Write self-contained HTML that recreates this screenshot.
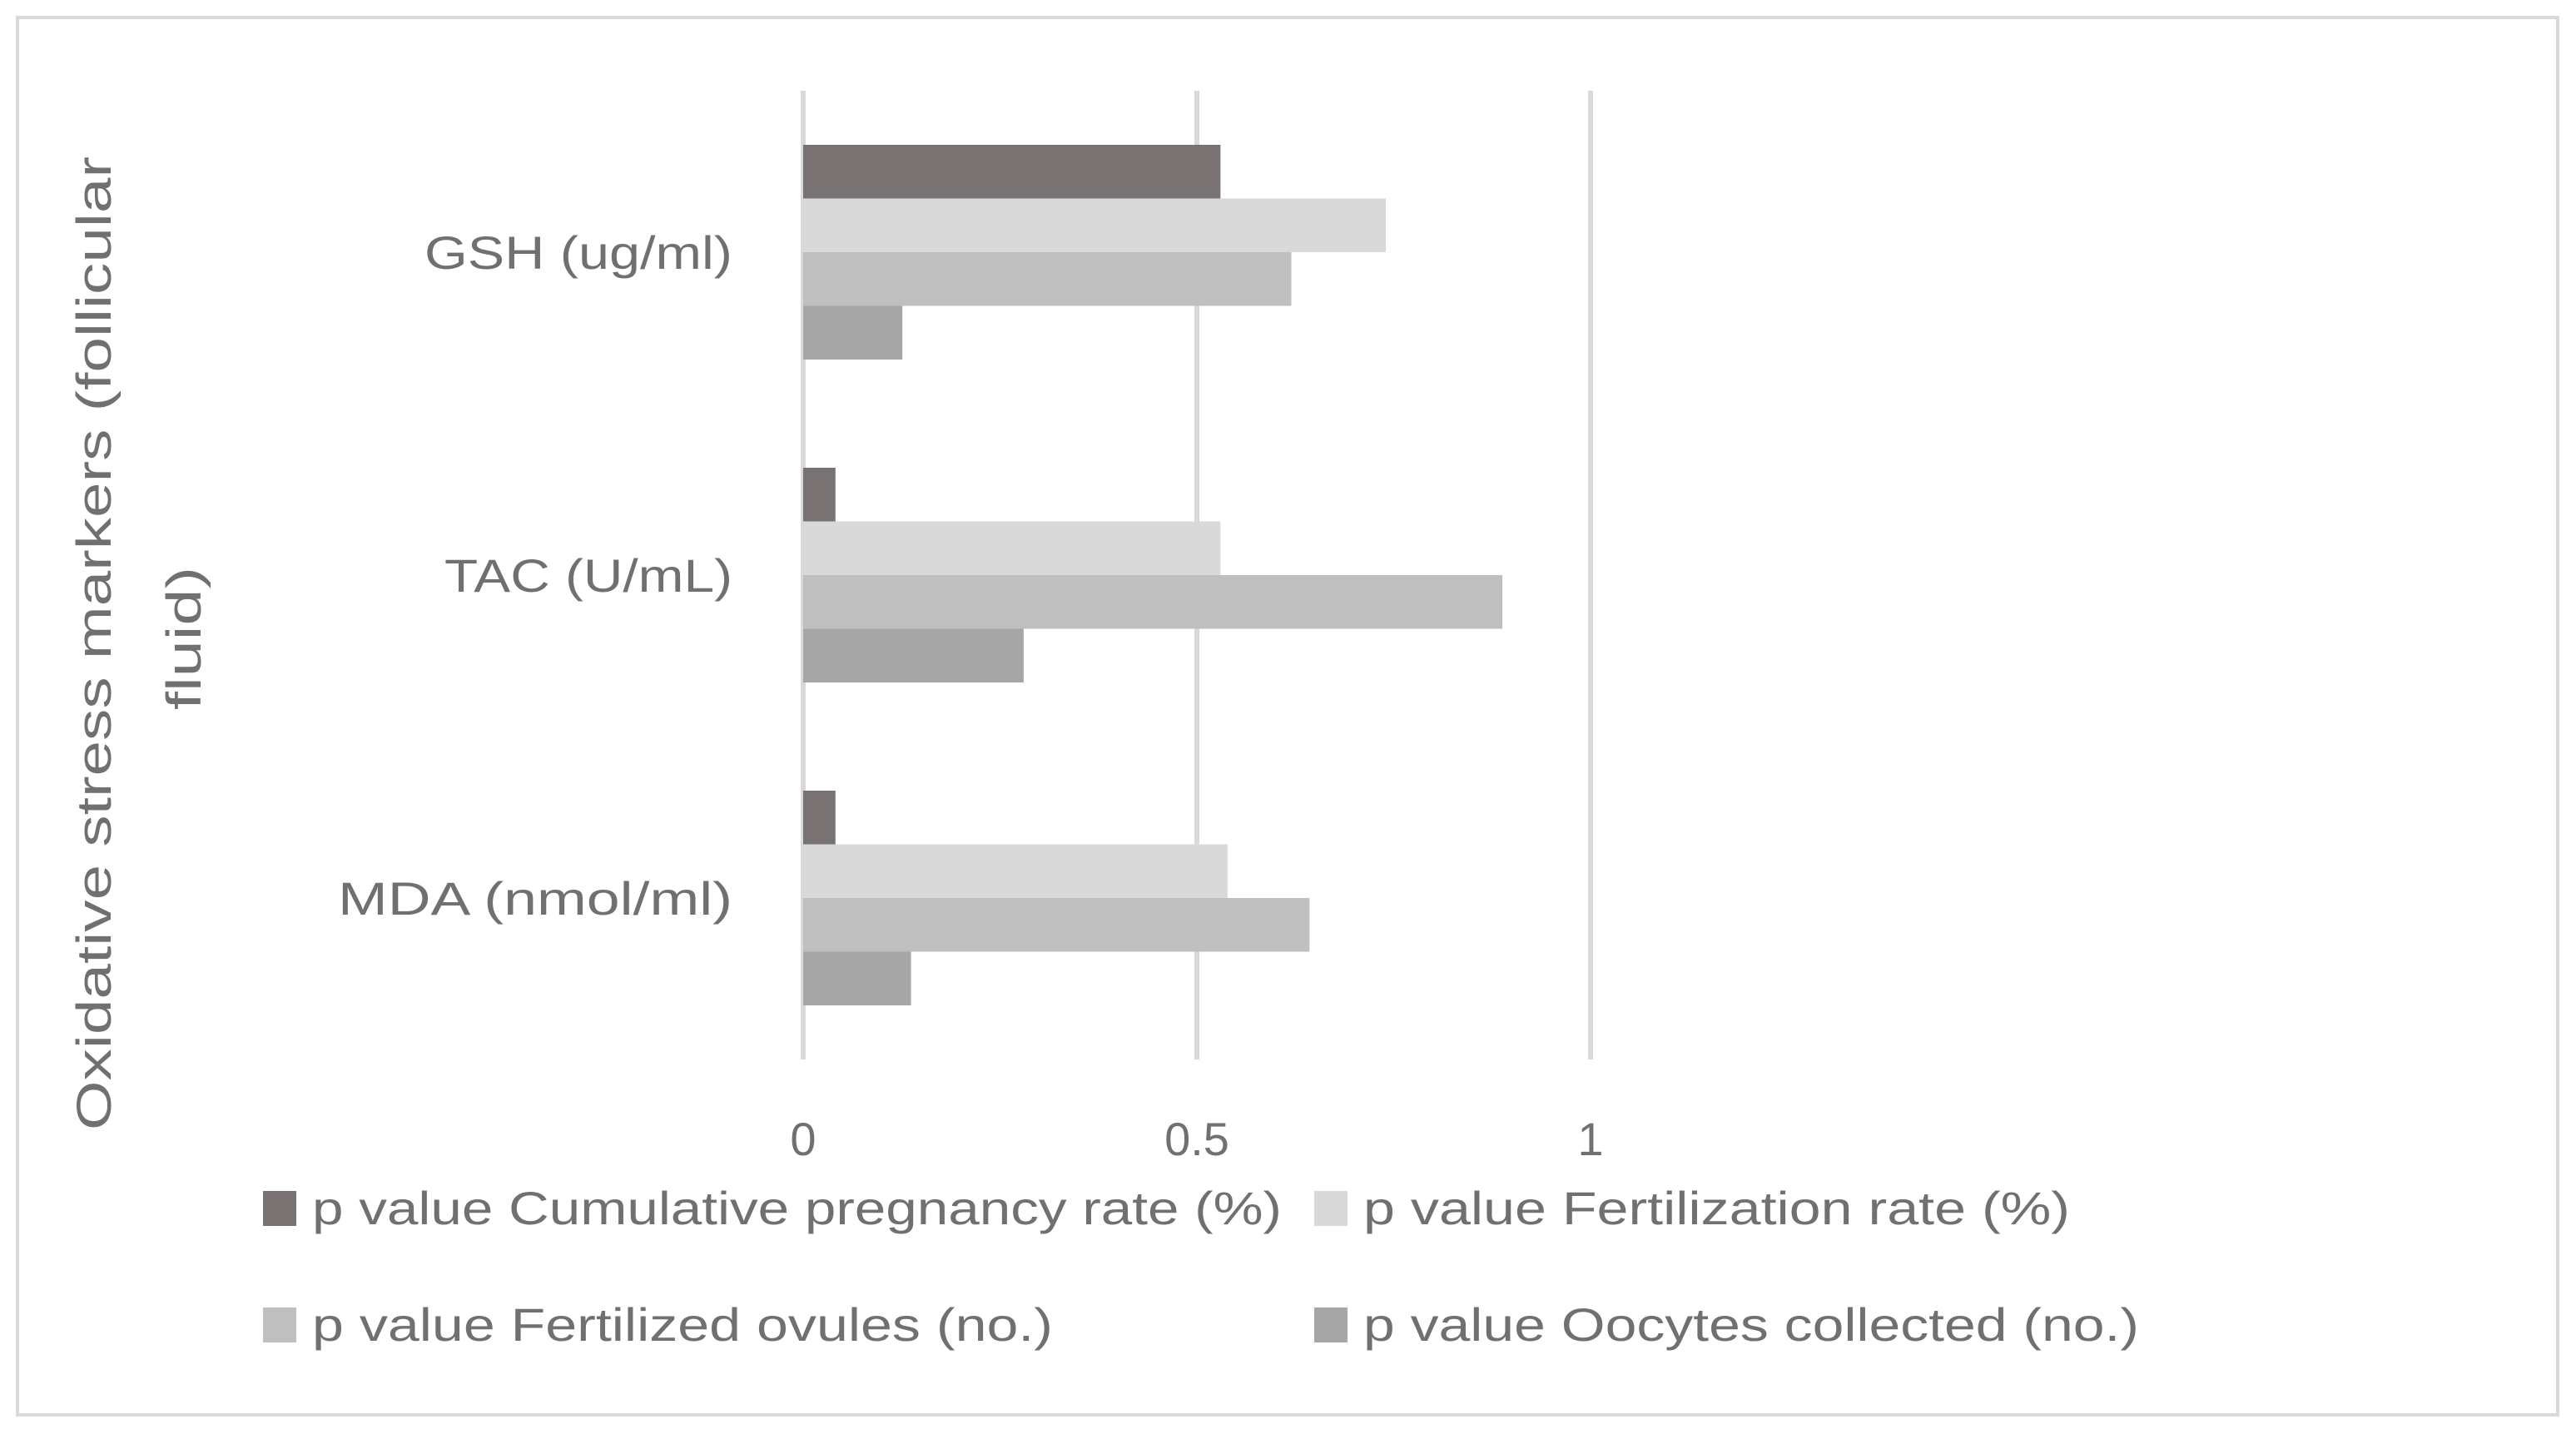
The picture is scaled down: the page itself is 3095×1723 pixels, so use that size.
<!DOCTYPE html>
<html><head><meta charset="utf-8"><style>
html,body{margin:0;padding:0;background:#fff;}
svg{display:block;font-family:"Liberation Sans",sans-serif;}
</style></head><body>
<svg id="chart" width="3095" height="1723" viewBox="0 0 3095 1723" xmlns="http://www.w3.org/2000/svg">
<rect x="21" y="21" width="3052" height="1679" fill="#fff" stroke="#d9d9d9" stroke-width="4"/>
<g id="grid"></g>
<g id="bars"></g>
<g id="labels" fill="#707070" font-size="56"></g>
<text fill="#707070" font-size="58" transform="translate(133,773) rotate(-90)" text-anchor="middle" textLength="1170" lengthAdjust="spacingAndGlyphs">Oxidative stress markers (follicular</text>
<text fill="#707070" font-size="58" transform="translate(241,767) rotate(-90)" text-anchor="middle" textLength="172" lengthAdjust="spacingAndGlyphs">fluid)</text>
<g id="legend" font-size="56" fill="#707070"></g>
</svg>
<script>
const categories = ["GSH (ug/ml)", "TAC (U/mL)", "MDA (nmol/ml)"];
const seriesNames = ["p value Cumulative pregnancy rate (%)", "p value Fertilization rate (%)", "p value Fertilized ovules (no.)", "p value Oocytes collected (no.)"];
const cumulativePregnancy = [0.53, 0.041, 0.041];
const fertilizationRate = [0.74, 0.53, 0.539];
const fertilizedOvules = [0.62, 0.888, 0.643];
const oocytesCollected = [0.126, 0.28, 0.137];
const tickValues = [0, 0.5, 1];
const tickLabels = ["0", "0.5", "1"];

const NS = "http://www.w3.org/2000/svg";
const series = [cumulativePregnancy, fertilizationRate, fertilizedOvules, oocytesCollected];
const colors = ["#787272", "#d9d9d9", "#bfbfbf", "#a6a6a6"];
const x0 = 965, xUnit = 946, plotTop = 109, plotBottom = 1273;
const band = (plotBottom - plotTop) / categories.length;
const barH = 64.5;
const xScale = v => x0 + v * xUnit;
const yBand = i => plotTop + i * band;
function mk(tag, attrs, parent) { const e = document.createElementNS(NS, tag); for (const k in attrs) e.setAttribute(k, attrs[k]); parent.appendChild(e); return e; }

const grid = document.getElementById('grid');
tickValues.forEach((t, i) => {
  const l = mk('line', {x1: xScale(t), x2: xScale(t), y1: plotTop, y2: plotBottom, stroke: '#d9d9d9', 'stroke-width': 6}, grid);
  
  
  const tx = mk('text', {x: xScale(t), y: 1388, 'text-anchor': 'middle', fill: '#707070', 'font-size': 56}, grid);
  tx.textContent = tickLabels[i];
  
  
});

const bars = document.getElementById('bars');
const groupH = barH * series.length;
categories.forEach((c, ci) => {
  const top = yBand(ci) + (band - groupH) / 2;
  series.forEach((s, si) => {
    const r = mk('rect', {x: xScale(0), y: top + si * barH, width: xScale(s[ci]) - xScale(0), height: barH, fill: colors[si]}, bars);
    
    
  });
});

const labels = document.getElementById('labels');
const catWidths = [370, 346, 474];
categories.forEach((c, ci) => {
  const t = mk('text', {x: 880, y: yBand(ci) + band / 2 + 20, 'text-anchor': 'end', textLength: catWidths[ci], lengthAdjust: 'spacingAndGlyphs'}, labels);
  t.textContent = c;
  
  
});

const legend = document.getElementById('legend');
const legPos = [[316, 1451], [1579, 1451], [316, 1591], [1579, 1591]];
const legW = [1165, 849, 890, 932];
seriesNames.forEach((n, i) => {
  const g = mk('g', {}, legend);
  
  
  const sw = mk('rect', {x: legPos[i][0], y: legPos[i][1] - 20, width: 40, height: 42, fill: colors[i]}, g);
  
  
  const t = mk('text', {x: legPos[i][0] + 59, y: legPos[i][1] + 20, textLength: legW[i], lengthAdjust: 'spacingAndGlyphs'}, g);
  t.textContent = n;
  
  
});
</script>
</body></html>
